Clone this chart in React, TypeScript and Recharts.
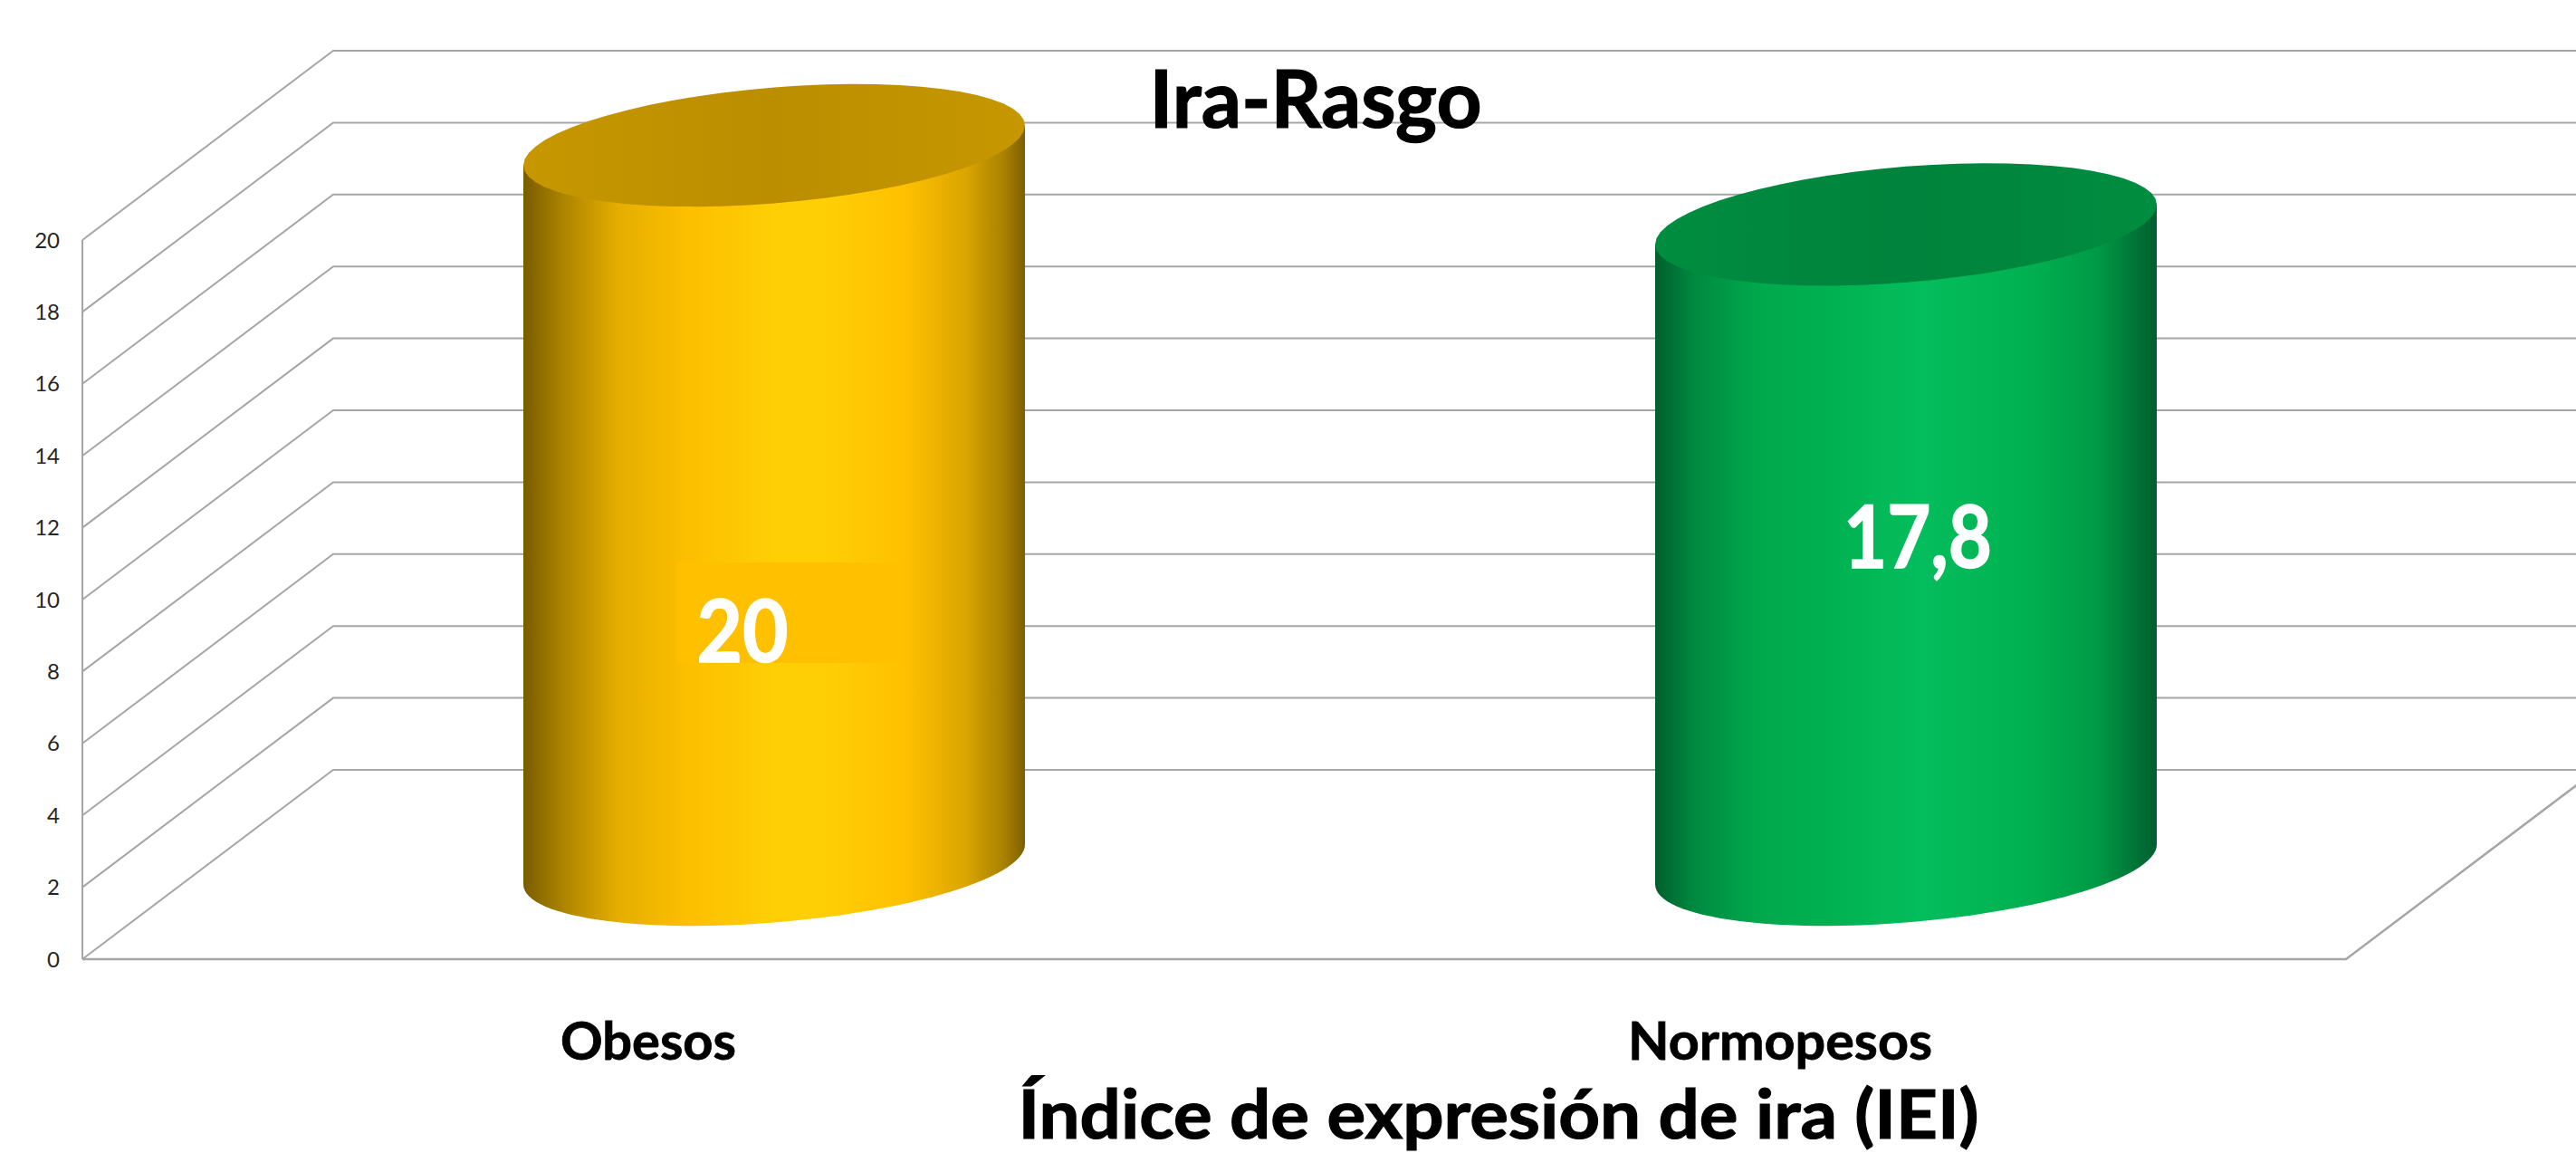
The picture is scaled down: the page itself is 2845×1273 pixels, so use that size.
import { BarChart, Bar, XAxis, YAxis, CartesianGrid, ReferenceLine } from "recharts";

const categories = ["Obesos", "Normopesos"];
const values = [20, 17.8];
const yTicks = [0, 2, 4, 6, 8, 10, 12, 14, 16, 18, 20];
const chartTitle = "Ira-Rasgo";
const axisTitle = "Índice de expresión de ira (IEI)";

const sideStops = [
  [
    ["0%", "#785c00"],
    ["8%", "#ae8400"],
    ["19%", "#e5ae00"],
    ["33%", "#fdbf00"],
    ["50%", "#fecf05"],
    ["60%", "#fecf05"],
    ["76%", "#ffc000"],
    ["88%", "#dba600"],
    ["96%", "#a88000"],
    ["100%", "#7c5f00"],
  ],
  [
    ["0%", "#005f2c"],
    ["8%", "#008a40"],
    ["20%", "#00a84c"],
    ["33%", "#00b050"],
    ["53%", "#04bd5c"],
    ["75%", "#00b050"],
    ["88%", "#009a46"],
    ["100%", "#005f2e"],
  ],
];
const capColors = [
  ["#c69700", "#bb8e00"],
  ["#008d40", "#00833c"],
];
const labelBoxFill = ["#ffc000", "none"];

const data = categories.map((name, i) => ({ name, value: values[i] }));

const W = 2845;
const H = 1273;
const FONT = "Lato, sans-serif";
const DEPTH_X = 277;
const DEPTH_Y = 209;
const GRID = "#a6a6a6";
const RX = 277;
const RY = 64;
const TILT = 22;

// moved by hand in the original chart
const labelDx = [-35, 13];
const labelBaseline = [-328, -432];
const labelWidth = [101, 164];
const catWidth = [194, 336];

function ellipseArc(cx: number, cy: number, from: number, to: number) {
  const pts: string[] = [];
  for (let i = 0; i <= 60; i++) {
    const t = from + ((to - from) * i) / 60;
    const c = Math.cos(t);
    pts.push(`${cx + RX * c} ${cy + RY * Math.sin(t) - TILT * c}`);
  }
  return pts.join(" L ");
}

function Cylinder(props: any) {
  const { x, y, width, height, index, value } = props;
  const cx = x + width / 2 + DEPTH_X / 2;
  const top = y - DEPTH_Y / 2;
  const base = y + height - DEPTH_Y / 2;
  const floor = y + height;
  const v = Array.isArray(value) ? value[1] : value;
  const text = String(v).replace(".", ",");
  const lx = cx + labelDx[index];
  return (
    <g>
      <defs>
        <linearGradient id={`side${index}`} x1="0" y1="0" x2="1" y2="0">
          {sideStops[index].map(([o, c]) => (
            <stop key={o} offset={o} stopColor={c} />
          ))}
        </linearGradient>
        <linearGradient id={`cap${index}`} x1="0" y1="0" x2="1" y2="0">
          <stop offset="0%" stopColor={capColors[index][0]} />
          <stop offset="50%" stopColor={capColors[index][1]} />
          <stop offset="100%" stopColor={capColors[index][0]} />
        </linearGradient>
      </defs>
      <path
        d={`M ${cx - RX} ${top + TILT} L ${ellipseArc(cx, base, Math.PI, 0)} L ${cx + RX} ${top - TILT} Z`}
        fill={`url(#side${index})`}
      />
      <path d={`M ${ellipseArc(cx, top, 0, Math.PI * 2)} Z`} fill={`url(#cap${index})`} />
      {labelBoxFill[index] !== "none" && (
        <rect x={cx - 108} y={floor - 438} width={246} height={111} fill={labelBoxFill[index]} />
      )}
      <text
        x={lx}
        y={floor + labelBaseline[index]}
        textAnchor="middle"
        fontFamily={FONT}
        fontWeight={700}
        fontSize={96}
        fill="#fff"
        stroke="#fff"
        strokeWidth={1.5}
        textLength={labelWidth[index]}
        lengthAdjust="spacingAndGlyphs"
      >
        {text}
      </text>
    </g>
  );
}

function WallLine(props: any) {
  const { x1, y1 } = props;
  return (
    <path
      key={props.key ?? y1}
      d={`M ${x1} ${y1} L ${x1 + DEPTH_X} ${y1 - DEPTH_Y} L ${W} ${y1 - DEPTH_Y}`}
      fill="none"
      stroke={GRID}
      strokeWidth={2}
    />
  );
}

function FloorLine(props: any) {
  const { x1, y1, x2 } = props;
  return (
    <path
      d={`M ${x1} ${y1} L ${x2} ${y1} L ${x2 + DEPTH_X} ${y1 - DEPTH_Y}`}
      fill="none"
      stroke={GRID}
      strokeWidth={2.5}
    />
  );
}

function CategoryTick(props: any) {
  const { x, y, payload, index } = props;
  return (
    <text
      x={x}
      y={y + 103}
      textAnchor="middle"
      fontFamily={FONT}
      fontWeight={700}
      fontSize={58}
      fill="#000"
      stroke="#000"
      strokeWidth={0.8}
      textLength={catWidth[index]}
      lengthAdjust="spacingAndGlyphs"
    >
      {payload.value}
    </text>
  );
}

export default function App() {
  return (
    <div style={{ position: "absolute", left: 0, top: 0, width: W, height: H, overflow: "hidden", background: "#fff" }}>
      <BarChart
        width={W}
        height={H}
        data={data}
        margin={{ top: 265, right: 254, bottom: 94, left: 0 }}
        style={{ overflow: "visible" }}
      >
        <CartesianGrid vertical={false} horizontal={WallLine} syncWithTicks />
        <YAxis
          width={91}
          domain={[0, 20]}
          ticks={yTicks}
          interval={0}
          tickLine={false}
          tickSize={25}
          tickMargin={0}
          axisLine={{ stroke: GRID, strokeWidth: 2 }}
          tick={{ fontSize: 24, fontFamily: FONT, fill: "#262626" }}
        />
        <XAxis
          dataKey="name"
          height={120}
          axisLine={false}
          tickLine={false}
          interval={0}
          tick={CategoryTick}
        />
        <ReferenceLine y={0} ifOverflow="visible" shape={FloorLine} />
        <Bar dataKey="value" barSize={555} isAnimationActive={false} shape={Cylinder} />
        <text
          x={1453}
          y={141}
          textAnchor="middle"
          fontFamily={FONT}
          fontWeight={700}
          fontSize={88}
          fill="#000"
          stroke="#000"
          strokeWidth={1.2}
          textLength={367}
          lengthAdjust="spacingAndGlyphs"
        >
          {chartTitle}
        </text>
        <text
          x={1655}
          y={1257}
          textAnchor="middle"
          fontFamily={FONT}
          fontWeight={700}
          fontSize={74}
          fill="#000"
          stroke="#000"
          strokeWidth={1.2}
          textLength={1061}
          lengthAdjust="spacingAndGlyphs"
        >
          {axisTitle}
        </text>
      </BarChart>
    </div>
  );
}
